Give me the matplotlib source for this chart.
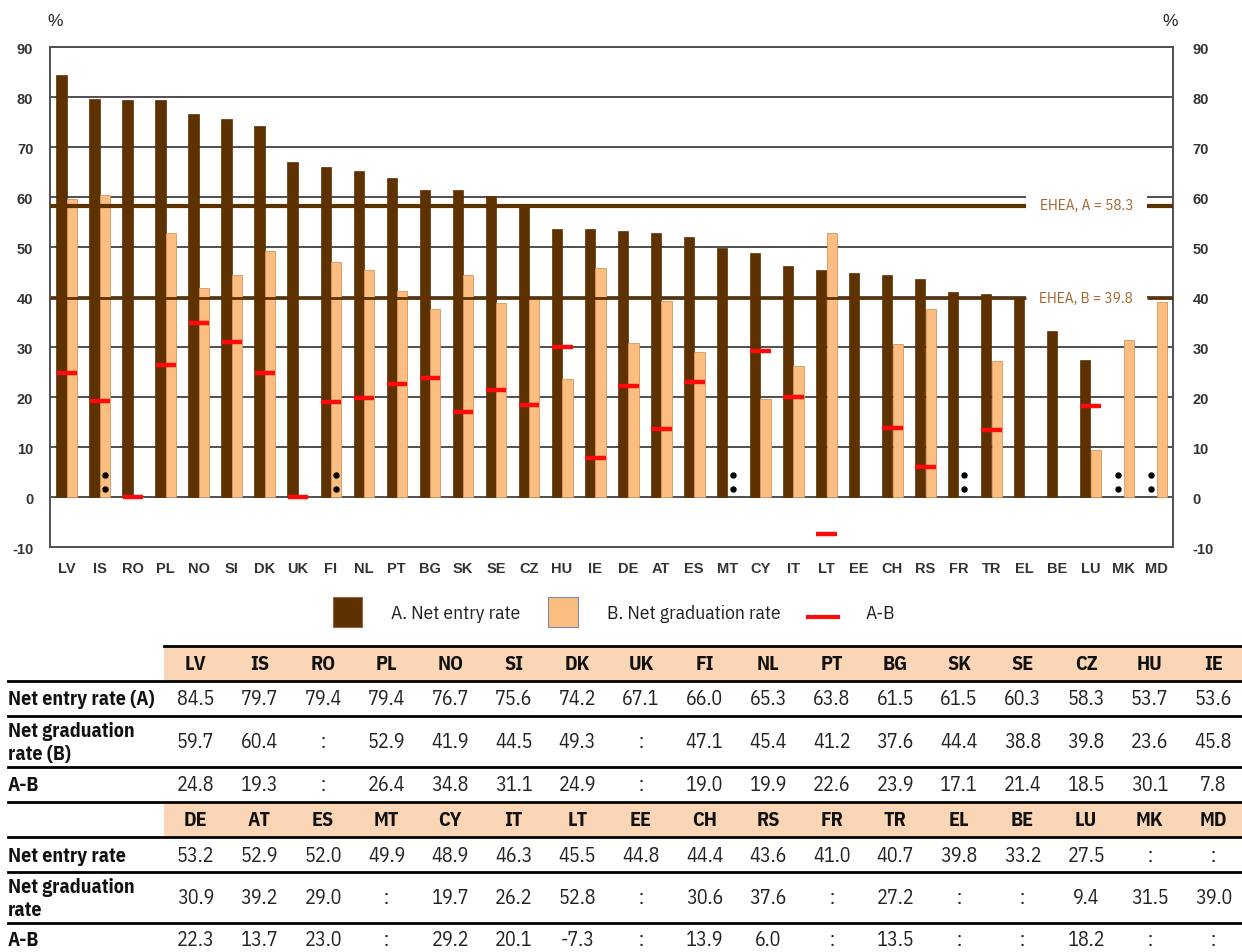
import numpy as np
import matplotlib
matplotlib.use('Agg')
import matplotlib.pyplot as plt
from matplotlib.patches import Rectangle

plt.rcParams['axes.unicode_minus'] = False

countries = ['LV', 'IS', 'RO', 'PL', 'NO', 'SI', 'DK', 'UK', 'FI', 'NL', 'PT', 'BG', 'SK', 'SE', 'CZ', 'HU', 'IE',
             'DE', 'AT', 'ES', 'MT', 'CY', 'IT', 'LT', 'EE', 'CH', 'RS', 'FR', 'TR', 'EL', 'BE', 'LU', 'MK', 'MD']
net_entry = [84.5, 79.7, 79.4, 79.4, 76.7, 75.6, 74.2, 67.1, 66.0, 65.3, 63.8, 61.5, 61.5, 60.3, 58.3, 53.7, 53.6,
             53.2, 52.9, 52.0, 49.9, 48.9, 46.3, 45.5, 44.8, 44.4, 43.6, 41.0, 40.7, 39.8, 33.2, 27.5, None, None]
net_grad = [59.7, 60.4, None, 52.9, 41.9, 44.5, 49.3, None, 47.1, 45.4, 41.2, 37.6, 44.4, 38.8, 39.8, 23.6, 45.8,
            30.9, 39.2, 29.0, None, 19.7, 26.2, 52.8, None, 30.6, 37.6, None, 27.2, None, None, 9.4, 31.5, 39.0]
a_minus_b = [24.8, 19.3, None, 26.4, 34.8, 31.1, 24.9, None, 19.0, 19.9, 22.6, 23.9, 17.1, 21.4, 18.5, 30.1, 7.8,
             22.3, 13.7, 23.0, None, 29.2, 20.1, -7.3, None, 13.9, 6.0, None, 13.5, None, None, 18.2, None, None]
ehea_a = 58.3
ehea_b = 39.8
# quirks of the original chart
ab_plotted_as_zero = ['RO', 'UK']
colon_grad_side = ['IS', 'FI', 'MT', 'FR']
colon_entry_side = ['MK', 'MD']

table_labels_1 = ['Net entry rate (A)', 'Net graduation\nrate (B)', 'A-B']
table_labels_2 = ['Net entry rate', 'Net graduation\nrate', 'A-B']
split = 17

DARK = '#5e3100'
LIGHT = '#fbbd80'
RED = '#ff0a0a'
GRID = '#505050'
PEACH = '#fbd6b6'
EHEA_TXT = '#a2652e'
NARROW = ['IBM Plex Sans Condensed', 'Liberation Sans', 'DejaVu Sans']
ARIAL = ['Liberation Sans', 'DejaVu Sans']

W, H = 1242, 953
fig = plt.figure(figsize=(W / 100, H / 100), dpi=100)
fig.patch.set_facecolor('white')

# ---- chart ----
L, R, T, B = 50, 1173, 48, 548
ax = fig.add_axes([L / W, 1 - B / H, (R - L) / W, (B - T) / H])
n = len(countries)
x = np.arange(n)
entry = np.array([np.nan if v is None else v for v in net_entry])
grad = np.array([np.nan if v is None else v for v in net_grad])
ab = np.array([np.nan if v is None else v for v in a_minus_b])
for c in ab_plotted_as_zero:
    ab[countries.index(c)] = 0.0

bw = 0.31
ax.bar(x - bw / 2, entry, width=bw, color=DARK, edgecolor=DARK, linewidth=0.5, zorder=2)
ax.bar(x + bw / 2 + 0.01, grad, width=bw, color=LIGHT, edgecolor='#d8955a', linewidth=0.6, zorder=2)

ax.set_xlim(-0.5, n - 0.5)
ax.set_ylim(-10, 90)
ax.set_yticks(np.arange(-10, 91, 10))
ax.yaxis.grid(True, color=GRID, linewidth=1.4, zorder=0)
ax.set_axisbelow(True)
for s in ax.spines.values():
    s.set_color(GRID)
    s.set_linewidth(1.4)
ax.set_xticks(x)
ax.set_xticklabels(countries, fontweight='bold', fontsize=10.5, color='#333333', family=ARIAL)
ax.tick_params(axis='x', length=0, pad=10)
ax.tick_params(axis='y', length=0, pad=12, labelsize=10.5, labelcolor='#333333')
for lab in ax.get_yticklabels():
    lab.set_fontweight('bold')
    lab.set_family(ARIAL)

ax2 = ax.twinx()
ax2.set_ylim(-10, 90)
ax2.set_yticks(np.arange(-10, 91, 10))
ax2.tick_params(axis='y', length=0, pad=14, labelsize=10.5, labelcolor='#333333')
for lab in ax2.get_yticklabels():
    lab.set_fontweight('bold')
    lab.set_family(ARIAL)
for s in ax2.spines.values():
    s.set_visible(False)

# EHEA reference lines with gap for the label
gx0, gx1 = 29.05, 32.7
ax.add_patch(Rectangle((gx0, 56.4), gx1 - gx0, 5.0, facecolor='white', edgecolor='none', zorder=1))
ax.add_patch(Rectangle((gx0, 37.6), gx1 - gx0, 4.2, facecolor='white', edgecolor='none', zorder=1))
for val, lw in [(ehea_a, 3.0), (ehea_b, 2.0)]:
    ax.hlines(val, -0.5, gx0, color=DARK, linewidth=lw, zorder=4)
    ax.hlines(val, gx1, n - 0.5, color=DARK, linewidth=lw, zorder=4)
lx = (gx0 + gx1) / 2
ax.text(lx, ehea_a, 'EHEA, A = %.1f' % ehea_a, ha='center', va='center', color=EHEA_TXT,
        fontsize=11, family=NARROW, zorder=5)
ax.text(lx, ehea_b, 'EHEA, B = %.1f' % ehea_b, ha='center', va='center', color=EHEA_TXT,
        fontsize=11, family=NARROW, zorder=5)

# A-B markers
for i in range(n):
    if not np.isnan(ab[i]):
        ax.hlines(ab[i], i - 0.3, i + 0.32, color=RED, linewidth=3.2, zorder=5)

# ':' markers
for c in colon_grad_side:
    i = countries.index(c) + 0.17
    ax.plot([i, i], [1.6, 4.4], 'o', ms=3.6, color='black', zorder=6)
for c in colon_entry_side:
    i = countries.index(c) - 0.17
    ax.plot([i, i], [1.6, 4.4], 'o', ms=3.6, color='black', zorder=6)

# ---- overlay for legend and table (pixel coords) ----
ov = fig.add_axes([0, 0, 1, 1])
ov.set_xlim(0, W)
ov.set_ylim(H, 0)
ov.axis('off')

ov.text(55, 22, '%', fontsize=12.5, ha='center', va='center', color='#222222', family=ARIAL)
ov.text(1170, 22, '%', fontsize=12.5, ha='center', va='center', color='#222222', family=ARIAL)

# legend
ov.add_patch(Rectangle((333, 598), 29, 30, facecolor=DARK, edgecolor='#8a6a4a', linewidth=0.8))
ov.text(391, 614, 'A. Net entry rate', fontsize=14, va='center', ha='left', family=NARROW, color='#222222')
ov.add_patch(Rectangle((548, 598), 30, 30, facecolor=LIGHT, edgecolor='#7b8aa5', linewidth=0.8))
ov.text(607, 614, 'B. Net graduation rate', fontsize=14, va='center', ha='left', family=NARROW, color='#222222')
ov.plot([808, 838], [618, 618], color=RED, linewidth=3)
ov.text(866, 614, 'A-B', fontsize=14, va='center', ha='left', family=NARROW, color='#222222')

# table
col0, colw = 164, 63.6


def fmt(v):
    return ':' if v is None else '%.1f' % v


def draw_block(names, rows, labels, y_head, y_rows, head_top, head_bot):
    ov.add_patch(Rectangle((col0, head_top), W - col0, head_bot - head_top, facecolor=PEACH,
                           edgecolor='none'))
    for j, nm in enumerate(names):
        cx = col0 + colw * (j + 0.5)
        ov.text(cx, y_head, nm, ha='center', va='center', fontsize=14.5, fontweight='bold',
                family=NARROW, color='#111111')
        for vals, yr in zip(rows, y_rows):
            ov.text(cx, yr, fmt(vals[j]), ha='center', va='center', fontsize=14.5,
                    family=NARROW, color='#222222')
    for lab, yr in zip(labels, y_rows):
        ov.text(8, yr, lab, ha='left', va='center', fontsize=14.3, fontweight='bold',
                family=NARROW, color='#111111', linespacing=1.3)


draw_block(countries[:split], [net_entry[:split], net_grad[:split], a_minus_b[:split]],
           table_labels_1, 665, [700, 743, 786], 647, 682)
draw_block(countries[split:], [net_entry[split:], net_grad[split:], a_minus_b[split:]],
           table_labels_2, 821, [857, 899, 941], 803, 838)

ov.plot([col0, W], [647, 647], color='black', linewidth=2)
for yl in [682, 717, 768, 803, 838, 873, 924]:
    ov.plot([8, W], [yl, yl], color='black', linewidth=2)

fig.savefig('out.png', dpi=100, facecolor='white')
